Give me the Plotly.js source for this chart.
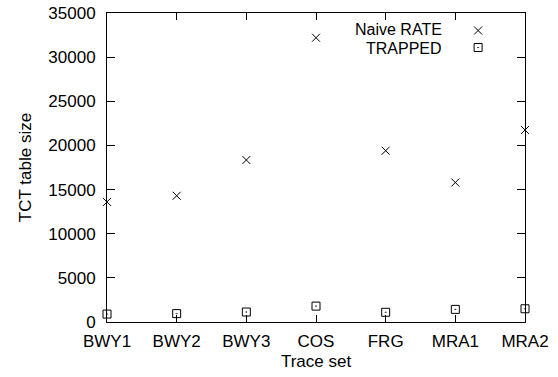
<!DOCTYPE html>
<html><head><meta charset="utf-8">
<script src="https://cdn.plot.ly/plotly-3.0.1.min.js"></script>
<style>html,body{margin:0;padding:0;background:#fff}#c{width:558px;height:377px}</style>
</head><body><div id="c"></div>
<script>
const categories = ["BWY1","BWY2","BWY3","COS","FRG","MRA1","MRA2"];
const naiveRate = [13600, 14300, 18350, 32200, 19400, 15800, 21750];
const trapped = [900, 950, 1130, 1800, 1100, 1430, 1500];
const seriesNames = ["Naive RATE", "TRAPPED"];
const yTicks = [0,5000,10000,15000,20000,25000,30000,35000];

const font = {family: "Liberation Sans, Arial, sans-serif", size: 17, color: "#000"};
const annFont = {family: font.family, size: 16, color: "#000"};
const traces = [
  {x: categories, y: naiveRate, type: "scatter", mode: "markers", name: " ",
   cliponaxis: false, legend: "legend",
   marker: {symbol: "x-thin-open", size: 8, color: "#000", line: {width: 1, color: "#000"}}},
  {x: categories, y: trapped, type: "scatter", mode: "markers", name: " ",
   cliponaxis: false, legend: "legend2",
   marker: {symbol: "square-open-dot", size: 8, color: "#000", line: {width: 1, color: "#000"}}}
];
const legFont = {family: font.family, size: 12, color: "#000"};
const layout = {
  width: 558, height: 377,
  margin: {l: 107, r: 33, t: 13, b: 55},
  paper_bgcolor: "#fff", plot_bgcolor: "#fff",
  font: font,
  showlegend: true,
  legend: {x: 0.840, y: 1 - 3 / 309, xanchor: "left", yanchor: "top", bgcolor: "rgba(0,0,0,0)",
           font: legFont, itemwidth: 30},
  legend2: {x: 0.840, y: 1 - 20 / 309, xanchor: "left", yanchor: "top", bgcolor: "rgba(0,0,0,0)",
           font: legFont, itemwidth: 30},
  xaxis: {type: "category", range: [0, 6], categoryorder: "array", categoryarray: categories,
          showgrid: false, zeroline: false, showline: true, linecolor: "#000", linewidth: 1,
          mirror: "ticks", ticks: "inside", ticklen: 7, tickcolor: "#000", tickwidth: 1,
          tickfont: font, ticklabelstandoff: 4,
          title: {text: "Trace set", font: font, standoff: 4}},
  yaxis: {range: [0, 35000], tickvals: yTicks, ticktext: yTicks.map(String),
          showgrid: false, zeroline: false, showline: true, linecolor: "#000", linewidth: 1,
          mirror: "ticks", ticks: "inside", ticklen: 8, tickcolor: "#000", tickwidth: 1,
          tickfont: font, ticklabelstandoff: 7,
          title: {text: "TCT table size", font: font, standoff: 12}},
  annotations: seriesNames.map((n, i) => ({
    xref: "paper", yref: "paper", x: 0.805, y: 1 - (16.5 + 19 * i) / 309,
    xanchor: "right", yanchor: "middle", text: n, showarrow: false, font: annFont,
    borderpad: 0
  }))
};
Plotly.newPlot("c", traces, layout, {staticPlot: true, displayModeBar: false});
</script></body></html>
